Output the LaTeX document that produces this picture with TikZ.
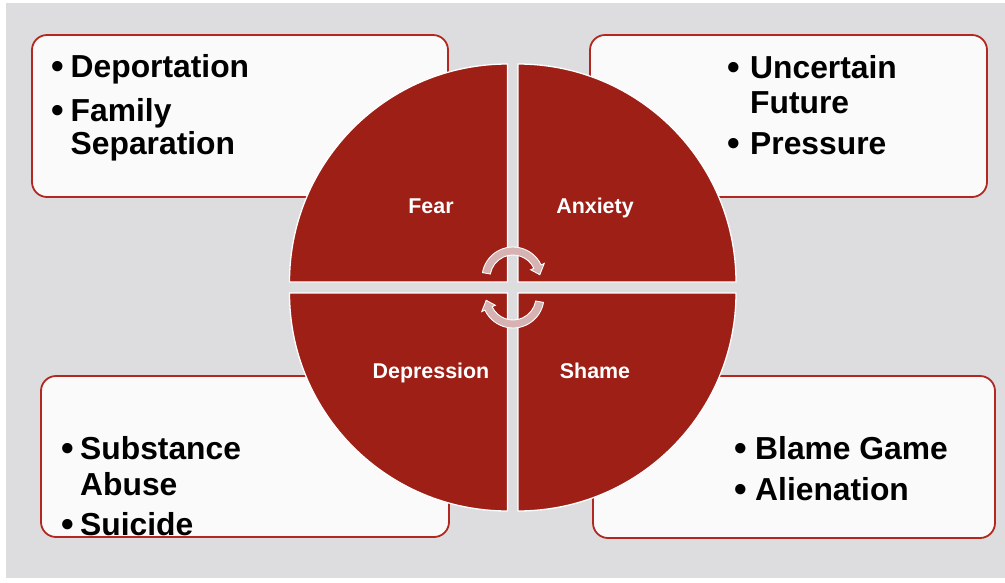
\documentclass[tikz,border=0pt]{standalone}
\usepackage{fontspec}
\setmainfont{Liberation Sans}
\definecolor{bggray}{RGB}{221,221,223}
\definecolor{boxfill}{RGB}{250,250,250}
\definecolor{boxline}{RGB}{178,40,32}
\definecolor{quadred}{RGB}{157,31,22}
\definecolor{arrowpink}{RGB}{214,178,178}
\tikzset{
  infobox/.style={draw=boxline, line width=1.8pt, fill=boxfill, rounded corners=15pt},
  quad/.style={fill=quadred, draw=white, line width=1.3pt},
  cyclearrow/.style={fill=arrowpink, draw=white, line width=0.9pt},
  itemtext/.style={anchor=base west, inner sep=0pt, font=\bfseries\fontsize{31.8}{31.8}\selectfont, text=black},
  bul/.style={anchor=base west, inner sep=0pt, font=\bfseries\fontsize{36}{36}\selectfont, text=black},
  quadlabel/.style={anchor=base, inner sep=0pt, font=\bfseries\fontsize{21.4}{21.4}\selectfont, text=white}
}
\begin{document}
\begin{tikzpicture}[x=1pt,y=-1pt]
\useasboundingbox (0,0) rectangle (1005,582);
\fill[white] (0,0) rectangle (1005,582);
\fill[bggray] (6,3) rectangle (1005,578);
% boxes
\path[infobox] (32,35) rectangle (448,197);
\path[infobox] (590,35) rectangle (987,197);
\path[infobox] (41,376) rectangle (449,537);
\path[infobox] (593,376) rectangle (995,538);
% quadrants
\path[quad] (507.5,282) -- ++(180:218) arc[start angle=180,end angle=270,radius=218] -- cycle;
\path[quad] (518,282) -- ++(270:218) arc[start angle=270,end angle=360,radius=218] -- cycle;
\path[quad] (518,293) -- ++(0:218) arc[start angle=0,end angle=90,radius=218] -- cycle;
\path[quad] (507.5,293) -- ++(90:218) arc[start angle=90,end angle=180,radius=218] -- cycle;
% quadrant labels
\node[quadlabel] (fear) at (431,213) {Fear};
\node[quadlabel] (anxiety) at (595,213) {Anxiety};
\node[quadlabel] (depression) at (431,378) {Depression};
\node[quadlabel] (shame) at (595,378) {Shame};
% cycle arrows
\begin{scope}[shift={(513,278)}]
\path[cyclearrow] (190:31) arc[start angle=190,end angle=335,radius=31] -- (335:34.5) -- (353:27) -- (335:19.5) -- (335:23) arc[start angle=335,end angle=190,radius=23] -- cycle;
\end{scope}
\begin{scope}[shift={(513,297)},rotate=180]
\path[cyclearrow] (190:31) arc[start angle=190,end angle=335,radius=31] -- (335:34.5) -- (353:27) -- (335:19.5) -- (335:23) arc[start angle=335,end angle=190,radius=23] -- cycle;
\end{scope}
% top-left box text
\node[bul] (b1) at (51.2,78.5) {•};
\node[itemtext] (t1) at (70.5,77) {Deportation};
\node[bul] (b2) at (51.2,122.5) {•};
\node[itemtext] (t2) at (70.5,121) {Family};
\node[itemtext] (t3) at (70.5,154) {Separation};
% top-right box text
\node[bul] (b3) at (727.7,79.5) {•};
\node[itemtext] (t4) at (750,78) {Uncertain};
\node[itemtext] (t5) at (750,113) {Future};
\node[bul] (b4) at (727.7,155.5) {•};
\node[itemtext] (t6) at (750,154) {Pressure};
% bottom-left box text
\node[bul] (b5) at (61.2,460.5) {•};
\node[itemtext] (t7) at (80,459) {Substance};
\node[itemtext] (t8) at (80,495) {Abuse};
\node[bul] (b6) at (61.2,536.5) {•};
\node[itemtext] (t9) at (80,535) {Suicide};
% bottom-right box text
\node[bul] (b7) at (734.7,460.5) {•};
\node[itemtext] (t10) at (755,459) {Blame Game};
\node[bul] (b8) at (734.7,501.5) {•};
\node[itemtext] (t11) at (755,500) {Alienation};
\end{tikzpicture}
\end{document}
